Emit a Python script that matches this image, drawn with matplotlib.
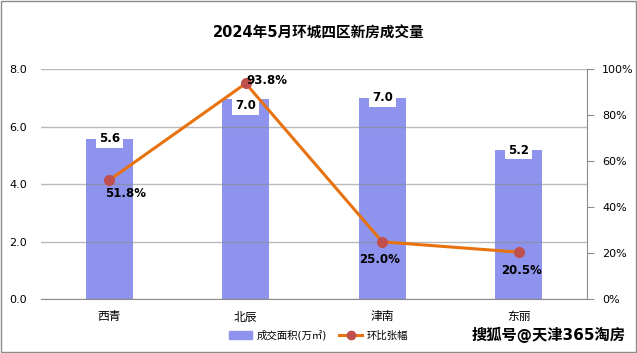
import matplotlib
matplotlib.use("Agg")
import matplotlib.pyplot as plt
from matplotlib.patches import Patch, Rectangle
from matplotlib.lines import Line2D
from matplotlib.ticker import PercentFormatter

plt.rcParams['font.family'] = ['DejaVu Sans', 'Noto Sans CJK SC']

districts = ["西青", "北辰", "津南", "东丽"]
area = [5.58, 6.95, 7.01, 5.19]          # 成交面积(万㎡)
growth = [51.8, 93.8, 25.0, 20.5]        # 环比张幅 %
title = "2024年5月环城四区新房成交量"

bar_color = "#8E94EE"
line_color = "#E8720F"
marker_color = "#C0504D"
grid_color = "#8C8C8C"

fig = plt.figure(figsize=(6.37, 3.53), dpi=100)
ax = fig.add_axes([0.0644, 0.152, 0.857, 0.652])
ax2 = ax.twinx()

x = range(len(districts))
ax.bar(x, area, width=0.345, color=bar_color, zorder=1)
ax.set_xlim(-0.5, len(districts) - 0.5)
ax.set_ylim(0, 8)
ax.set_yticks([0, 2, 4, 6, 8])
ax.set_yticklabels(["%.1f" % v for v in [0, 2, 4, 6, 8]], fontsize=8)
ax.set_xticks(list(x))
ax.set_xticklabels(districts, fontsize=8.5)
ax.tick_params(axis='y', length=0, pad=10)
ax.tick_params(axis='x', length=0, pad=8)
ax.set_axisbelow(False)
ax.yaxis.grid(True, color=grid_color, linewidth=1, alpha=0.6, zorder=2)
for s in ["left", "top", "right"]:
    ax.spines[s].set_visible(False)
ax.spines["bottom"].set_color(grid_color)

# bar value labels on white box
bar_off = [0, -6, 0, 0]
for i, v in enumerate(area):
    ax.annotate("%.1f" % v, (i, v), xytext=(0, bar_off[i]), textcoords="offset pixels",
                ha="center", va="center", fontsize=8.5, fontweight="bold", zorder=5,
                bbox=dict(boxstyle="square,pad=0.25", fc="white", ec="none"))

ax2.plot(list(x), growth, color=line_color, linewidth=2.2, marker="o",
         markersize=7, markerfacecolor=marker_color, markeredgecolor=marker_color, zorder=3)
ax2.set_ylim(0, 100)
ax2.set_yticks([0, 20, 40, 60, 80, 100])
ax2.yaxis.set_major_formatter(PercentFormatter(decimals=0))
ax2.tick_params(axis='y', labelsize=8, length=5, color=grid_color, pad=6)
for s in ["left", "top", "bottom"]:
    ax2.spines[s].set_visible(False)
ax2.spines["right"].set_color(grid_color)

line_off = [(16, -13), (21, 3), (-3, -18), (3, -18)]
for i, v in enumerate(growth):
    ax2.annotate("%.1f%%" % v, (i, v), xytext=line_off[i], textcoords="offset pixels",
                 ha="center", va="center", fontsize=8.5, fontweight="bold", zorder=6)

fig.text(0.5, 0.907, title, ha="center", va="center", fontsize=10.5, fontweight="bold")

handles = [Patch(color=bar_color, label="成交面积(万㎡)"),
           Line2D([0], [0], color=line_color, linewidth=2.2, marker="o", markersize=6,
                  markerfacecolor=marker_color, markeredgecolor=marker_color, label="环比张幅")]
fig.legend(handles=handles, loc="center", bbox_to_anchor=(0.5, 0.05), ncol=2, frameon=False,
           fontsize=7.5, handlelength=2.2, columnspacing=1.2, handletextpad=0.4)

fig.text(0.982, 0.05, "搜狐号@天津365淘房", ha="right", va="center", fontsize=11,
         fontweight="bold", color="black")

fig.patches.append(Rectangle((0.002, 0.003), 0.996, 0.994, transform=fig.transFigure,
                             fill=False, edgecolor="#8C8C8C", linewidth=1))

fig.savefig("out.png", dpi=100)
